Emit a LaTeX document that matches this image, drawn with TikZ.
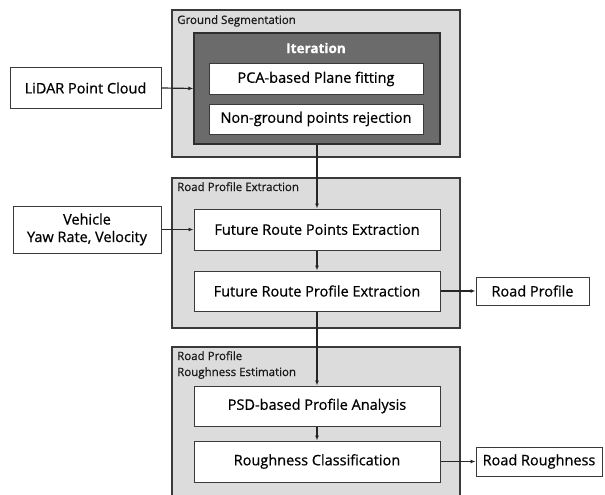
\documentclass[tikz,border=0pt]{standalone}
\usepackage{fontspec}
\setmainfont{Open Sans}[FakeBold=0.6]
\usetikzlibrary{arrows.meta}

\definecolor{stagefill}{HTML}{DCDCDC}
\definecolor{iterfill}{HTML}{6B6B6B}
\definecolor{edge}{HTML}{3A3A3A}

\tikzset{
  stagebox/.style={draw=edge, fill=stagefill, line width=1.3pt, inner sep=0pt},
  iterbox/.style={draw=edge!80!black, fill=iterfill, line width=1.3pt, inner sep=0pt},
  procbox/.style={draw=edge, fill=white, line width=1pt, inner sep=0pt,
    font=\fontsize{14.5}{17.5}\selectfont, align=center},
  stagelabel/.style={anchor=north west, inner sep=0pt, align=left,
    font=\fontsize{11.5}{16}\selectfont, text=black!90},
  flow/.style={draw=black!85, line width=1.2pt,
    -{Latex[length=5pt,width=4pt]}}
}

\begin{document}
\begin{tikzpicture}[x=1pt, y=-1pt]
\useasboundingbox (0,0) rectangle (605,495);
\clip (0,0) rectangle (605,495);
\fill[white] (0,0) rectangle (605,495);

% ground segmentation stage
\node[stagebox, minimum width=288pt, minimum height=147pt] (gs) at (316,83.5) {};
\node[stagelabel] (gslab) at (177,15) {Ground Segmentation};
\node[iterbox, minimum width=246pt, minimum height=111pt] (iter) at (317,88.5) {};
\node[inner sep=0pt, text=white, font=\fontsize{13.5}{15}\selectfont\bfseries] (itlab) at (316,48) {Iteration};
\node[procbox, minimum width=214pt, minimum height=30pt] (pca) at (316,79) {PCA-based Plane fitting};
\node[procbox, minimum width=214pt, minimum height=30pt] (ngr) at (316,119) {Non-ground points rejection};
\node[procbox, minimum width=151pt, minimum height=40pt] (lidar) at (85.5,88) {LiDAR Point Cloud};

% road profile extraction stage
\node[stagebox, minimum width=288pt, minimum height=150pt] (rpe) at (316,253) {};
\node[stagelabel] (rpelab) at (177,182) {Road Profile Extraction};
\node[procbox, minimum width=246pt, minimum height=41pt] (frpts) at (317,229.5) {Future Route Points Extraction};
\node[procbox, minimum width=246pt, minimum height=40pt] (frprof) at (317,291) {Future Route Profile Extraction};
\node[procbox, minimum width=148pt, minimum height=47pt] (veh) at (87,229.5) {Vehicle\\Yaw Rate, Velocity};
\node[procbox, minimum width=113pt, minimum height=28pt] (rp) at (532.5,291) {Road Profile};

% roughness estimation stage (runs past the lower edge)
\node[stagebox, minimum width=288pt, minimum height=173pt] (rre) at (316,433.5) {};
\node[stagelabel] (rrelab) at (177,351) {Road Profile\\Roughness Estimation};
\node[procbox, minimum width=246pt, minimum height=40pt] (psd) at (317,406) {PSD-based Profile Analysis};
\node[procbox, minimum width=246pt, minimum height=41pt] (rc) at (317,461.5) {Roughness Classification};
\node[procbox, minimum width=126pt, minimum height=29pt] (rr) at (539,461.5) {Road Roughness};

% connectors
\draw[flow] (lidar.east) -- (iter.west);
\draw[flow] (veh.east) -- (frpts.west);
\draw[flow] (iter.south) -- (frpts.north);
\draw[flow] (frpts.south) -- (frprof.north);
\draw[flow] (frprof.south) -- (psd.north);
\draw[flow] (psd.south) -- (rc.north);
\draw[flow] (frprof.east) -- (rp.west);
\draw[flow] (rc.east) -- (rr.west);
\end{tikzpicture}
\end{document}
